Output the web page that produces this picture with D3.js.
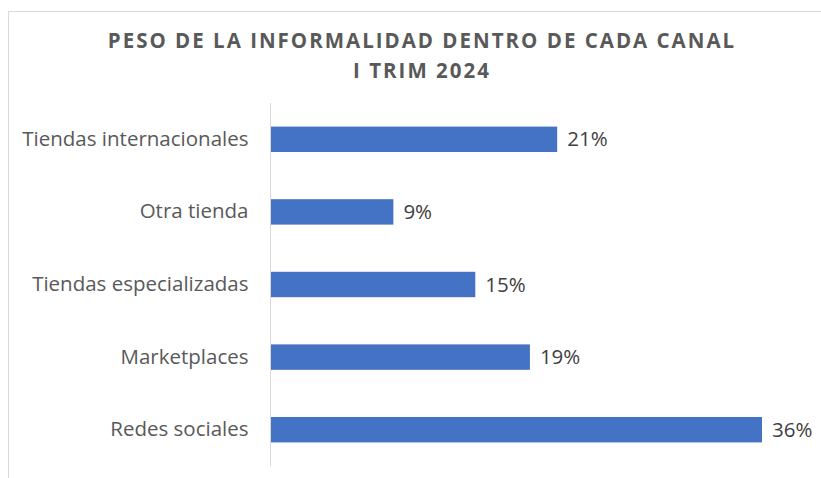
<!DOCTYPE html>
<html>
<head>
<meta charset="utf-8">
<script src="https://cdn.jsdelivr.net/npm/d3@7"></script>
<style>
  body { margin: 0; background: #fff; }
  svg { display: block; font-family: "Open Sans", "Noto Sans", sans-serif; }
</style>
</head>
<body>
<svg id="chart"></svg>
<script>
// data
var categories = ["Tiendas internacionales", "Otra tienda", "Tiendas especializadas", "Marketplaces", "Redes sociales"];
var values = [0.21, 0.09, 0.15, 0.19, 0.36];
var titleLines = ["PESO DE LA INFORMALIDAD DENTRO DE CADA CANAL", "I TRIM 2024"];

var width = 821,
    height = 478;

var svg = d3.select("#chart")
    .attr("width", width)
    .attr("height", height);

// chart frame (runs off the page right and bottom)
svg.append("rect")
    .attr("x", 8.5)
    .attr("y", 11.5)
    .attr("width", 900)
    .attr("height", 600)
    .style("fill", "#fff")
    .style("stroke", "#d9d9d9")
    .style("stroke-width", 1);

// title
svg.append("g")
    .selectAll("text")
    .data(titleLines)
    .enter().append("text")
    .attr("x", 422)
    .attr("y", function(d, i) { return 48 + i * 30; })
    .attr("text-anchor", "middle")
    .style("font-size", "20.5px")
    .style("font-weight", "bold")
    .style("letter-spacing", "2px")
    .style("fill", "#595959")
    .text(function(d) { return d; });

var x = d3.scaleLinear()
    .domain([0, 0.36])
    .range([270.5, 762]);

var y = d3.scaleBand()
    .domain(categories)
    .range([103, 466])
    .paddingInner(0.65)
    .paddingOuter(0.325);

var data = categories.map(function(c, i) { return {cat: c, val: values[i]}; });

// bars
svg.append("g")
    .selectAll("rect")
    .data(data)
    .enter().append("rect")
    .attr("x", x(0))
    .attr("y", function(d) { return y(d.cat); })
    .attr("width", function(d) { return x(d.val) - x(0); })
    .attr("height", y.bandwidth())
    .style("fill", "#4472c4");

// vertical axis line + category labels
var yAxis = d3.axisLeft(y).tickSize(0).tickPadding(22);
var gy = svg.append("g")
    .attr("transform", "translate(" + x(0) + ",0)")
    .call(yAxis);
gy.select(".domain").attr("d", "M0,103V466").style("stroke", "#d9d9d9");
gy.selectAll("text")
    .style("font-family", "\"Open Sans\", \"Noto Sans\", sans-serif")
    .style("font-size", "20.5px")
    .style("fill", "#595959");

// value labels
svg.append("g")
    .selectAll("text")
    .data(data)
    .enter().append("text")
    .attr("x", function(d) { return x(d.val) + 10; })
    .attr("y", function(d) { return y(d.cat) + y.bandwidth() / 2; })
    .attr("dy", "0.35em")
    .style("font-size", "20.5px")
    .style("fill", "#404040")
    .text(function(d) { return d3.format(".0%")(d.val); });
</script>
</body>
</html>
